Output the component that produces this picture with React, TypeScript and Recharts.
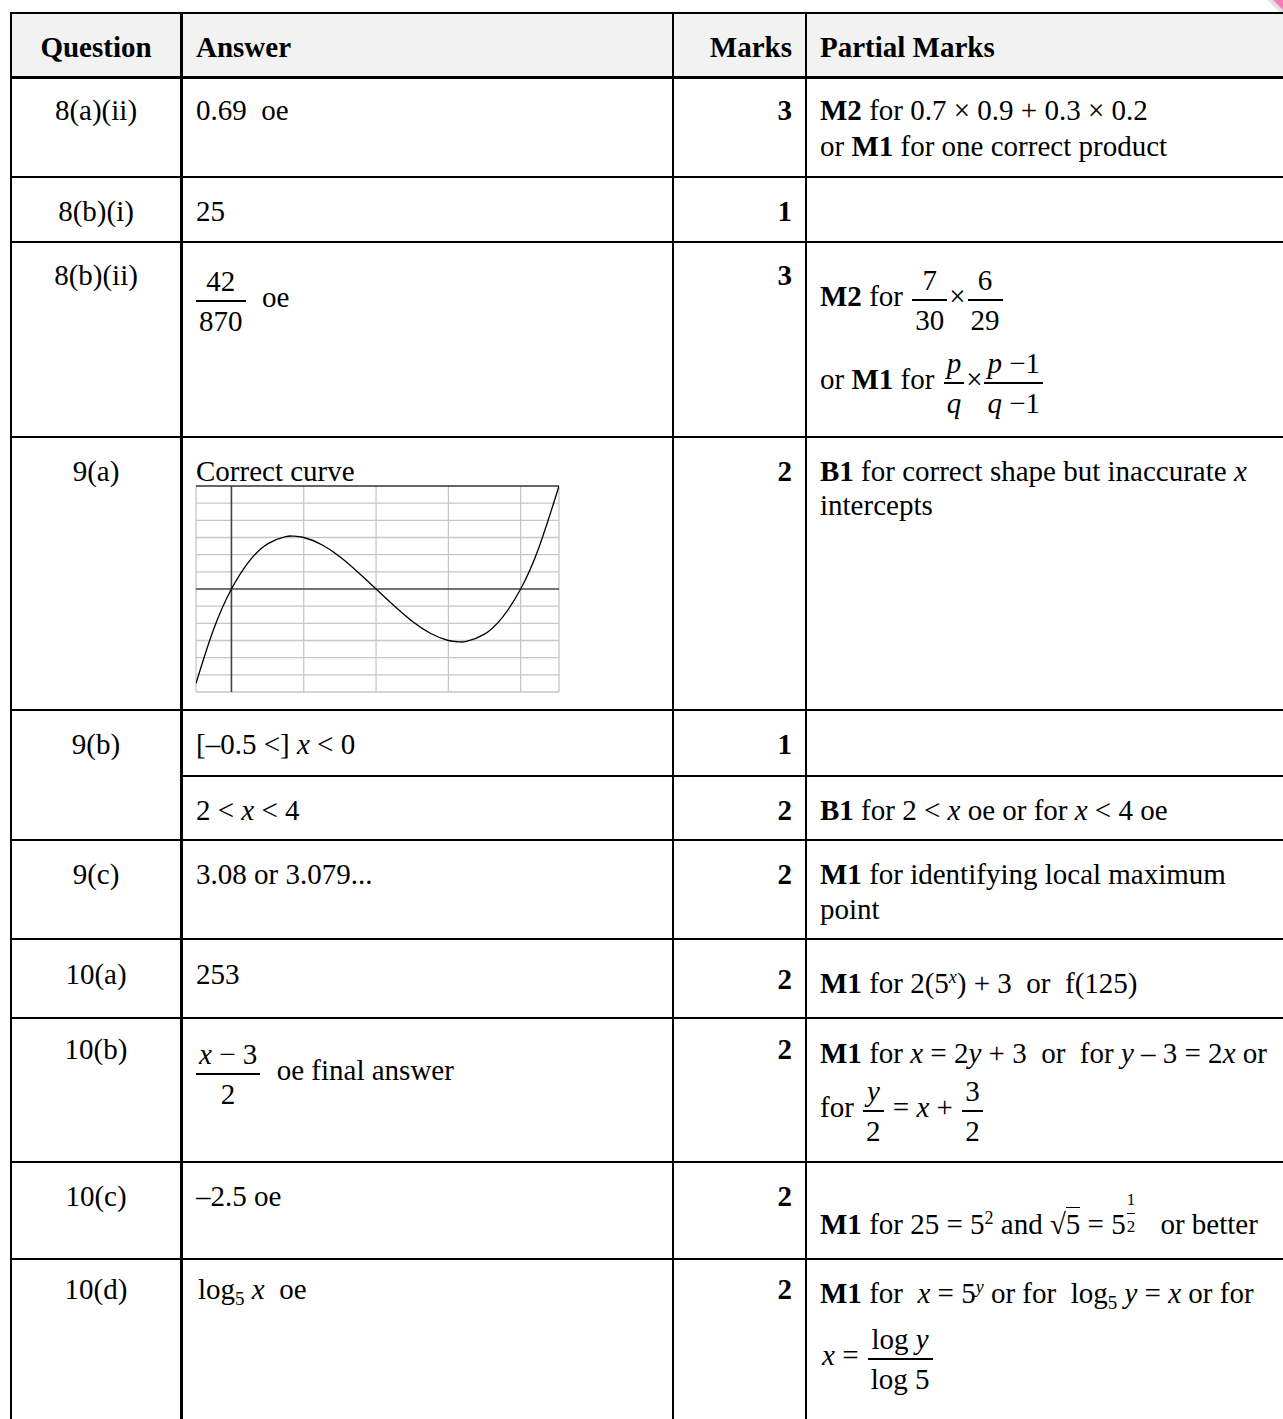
import React from 'react';
import { LineChart, Line, XAxis, YAxis, ReferenceLine } from 'recharts';

// curve in the 9(a) cell
const curveX = [-0.49, -0.25, 0, 0.25, 0.5, 0.75, 0.85, 1, 1.25, 1.5, 1.75, 2, 2.25, 2.5, 2.75, 3, 3.15, 3.25, 3.5, 3.75, 4, 4.25, 4.53];
const curveY = [-5.5, -2.39, 0, 1.64, 2.63, 3.05, 3.08, 3.0, 2.58, 1.88, 0.98, 0, -0.98, -1.88, -2.58, -3.0, -3.08, -3.05, -2.63, -1.64, 0, 2.39, 6.0];
const xDomain = [-0.49, 4.53];
const yDomain = [-6, 6];
const gridX = [-0.49, 1, 2, 3, 4, 4.53];
const gridY = [-6, -5, -4, -3, -2, -1, 1, 2, 3, 4, 5];

const curveData = curveX.map((x, i) => ({ x, y: curveY[i] }));

const FONT = '"Liberation Serif", "Times New Roman", Times, serif';
const W = 1283;
const H = 1419;

// table rules
const rowLines = [12.7, 77.5, 177, 242, 437, 710, 840, 939, 1018, 1162, 1259];
const subRowLines = [776];
const colLines = [11, 181.5, 673, 806];

const Txt = ({ x, cy, align = 'left', bold = false, children }: any) => {
  const base: React.CSSProperties = {
    position: 'absolute',
    top: cy - 60,
    height: 120,
    display: 'flex',
    alignItems: 'center',
    whiteSpace: 'pre',
    fontWeight: bold ? 'bold' : 'normal',
    lineHeight: '36px',
  };
  if (align === 'left') base.left = x;
  if (align === 'right') { base.left = x - 500; base.width = 500; base.justifyContent = 'flex-end'; }
  if (align === 'center') { base.left = x - 250; base.width = 500; base.justifyContent = 'center'; }
  return <div style={base}><span>{children}</span></div>;
};

const Frac = ({ n, d, fs = 29, lh = 38 }: any) => (
  <span style={{ display: 'inline-flex', flexDirection: 'column', alignItems: 'center', verticalAlign: 'middle', margin: '0 2px', fontSize: fs }}>
    <span style={{ lineHeight: lh + 'px', padding: '0 3px', whiteSpace: 'pre' }}>{n}</span>
    <span style={{ height: 1.4, background: '#000', alignSelf: 'stretch' }} />
    <span style={{ lineHeight: lh + 'px', padding: '0 3px', whiteSpace: 'pre' }}>{d}</span>
  </span>
);

// small stacked exponent that does not grow the line box
const ExpFrac = ({ n, d }: any) => (
  <span style={{ position: 'relative', display: 'inline-block', width: 13 }}>
    {'\u00a0'}
    <span style={{ position: 'absolute', left: 1, bottom: 2, display: 'flex', flexDirection: 'column', alignItems: 'center', fontSize: 17, lineHeight: '26px' }}>
      <span>{n}</span>
      <span style={{ height: 1, background: '#000', alignSelf: 'stretch' }} />
      <span>{d}</span>
    </span>
  </span>
);

const Sup = ({ children }: any) => (
  <span style={{ fontSize: 18, verticalAlign: '0.55em', lineHeight: 0 }}>{children}</span>
);
const Sub = ({ children }: any) => (
  <span style={{ fontSize: 19, verticalAlign: '-0.3em', lineHeight: 0 }}>{children}</span>
);

const CurveChart = () => (
  <div style={{ position: 'absolute', left: 195, top: 485 }}>
    <LineChart width={365} height={208} data={curveData} margin={{ top: 1, right: 1, bottom: 1, left: 1 }}>
      <XAxis type="number" dataKey="x" domain={xDomain} allowDataOverflow hide />
      <YAxis type="number" domain={yDomain} allowDataOverflow hide />
      {gridX.map((v) => (
        <ReferenceLine key={'gx' + v} x={v} stroke="#c2c2c2" strokeWidth={1.2} />
      ))}
      {gridY.map((v) => (
        <ReferenceLine key={'gy' + v} y={v} stroke="#c6c6c6" strokeWidth={1.4} />
      ))}
      <ReferenceLine y={6} stroke="#333" strokeWidth={1.3} />
      <ReferenceLine x={0} stroke="#444" strokeWidth={1.6} />
      <ReferenceLine y={0} stroke="#444" strokeWidth={1.6} />
      <Line type="natural" dataKey="y" stroke="#000" strokeWidth={1.3} dot={false} isAnimationActive={false} />
    </LineChart>
  </div>
);

export default function App() {
  return (
    <div style={{ position: 'absolute', left: 0, top: 0, width: W, height: H, overflow: 'hidden', background: '#fff', fontFamily: FONT, fontSize: 29, color: '#000' }}>
      {/* header background */}
      <div style={{ position: 'absolute', left: 11, top: 12.7, width: W - 11, height: 65, background: '#f2f2f2' }} />

      {/* page curl */}
      <div style={{ position: 'absolute', right: 0, top: 0, width: 16, height: 16, background: 'linear-gradient(225deg, #f47ab8 0%, #f47ab8 28%, #d9d9d9 32%, #ffffff 70%)', clipPath: 'polygon(0 0, 100% 0, 100% 100%)' }} />

      {rowLines.map((y) => (
        <div key={'r' + y} style={{ position: 'absolute', left: 10, top: y - 1.2, width: W, height: 2.4, background: '#000' }} />
      ))}
      {subRowLines.map((y) => (
        <div key={'s' + y} style={{ position: 'absolute', left: 181.5, top: y - 1.2, width: W, height: 2.4, background: '#000' }} />
      ))}
      {colLines.map((x) => (
        <div key={'c' + x} style={{ position: 'absolute', left: x - 1.2, top: 12.7, width: 2.4, height: H, background: '#000' }} />
      ))}

      {/* header */}
      <Txt x={96} cy={47} align="center" bold>Question</Txt>
      <Txt x={196} cy={47} bold>Answer</Txt>
      <Txt x={792} cy={47} align="right" bold>Marks</Txt>
      <Txt x={820} cy={47} bold>Partial Marks</Txt>

      {/* 8(a)(ii) */}
      <Txt x={96} cy={110} align="center">8(a)(ii)</Txt>
      <Txt x={196} cy={110}>0.69  oe</Txt>
      <Txt x={792} cy={110} align="right" bold>3</Txt>
      <Txt x={820} cy={110}><b>M2</b> for 0.7 × 0.9 + 0.3 × 0.2</Txt>
      <Txt x={820} cy={146}>or <b>M1</b> for one correct product</Txt>

      {/* 8(b)(i) */}
      <Txt x={96} cy={211} align="center">8(b)(i)</Txt>
      <Txt x={196} cy={211}>25</Txt>
      <Txt x={792} cy={211} align="right" bold>1</Txt>

      {/* 8(b)(ii) */}
      <Txt x={96} cy={275} align="center">8(b)(ii)</Txt>
      <Txt x={194} cy={301}><Frac n="42" d="870" />  oe</Txt>
      <Txt x={792} cy={275} align="right" bold>3</Txt>
      <Txt x={820} cy={300}><b>M2</b> for <Frac n="7" d="30" />×<Frac n="6" d="29" /></Txt>
      <Txt x={820} cy={383}>or <b>M1</b> for <Frac n={<i>p</i>} d={<i>q</i>} />×<Frac n={<><i>p</i> −1</>} d={<><i>q</i> −1</>} /></Txt>

      {/* 9(a) */}
      <Txt x={96} cy={471} align="center">9(a)</Txt>
      <Txt x={196} cy={471}>Correct curve</Txt>
      <CurveChart />
      <Txt x={792} cy={471} align="right" bold>2</Txt>
      <Txt x={820} cy={471}><b>B1</b> for correct shape but inaccurate <i>x</i></Txt>
      <Txt x={820} cy={505}>intercepts</Txt>

      {/* 9(b) */}
      <Txt x={96} cy={744} align="center">9(b)</Txt>
      <Txt x={196} cy={744}>[–0.5 &lt;] <i>x</i> &lt; 0</Txt>
      <Txt x={792} cy={744} align="right" bold>1</Txt>
      <Txt x={196} cy={810}>2 &lt; <i>x</i> &lt; 4</Txt>
      <Txt x={792} cy={810} align="right" bold>2</Txt>
      <Txt x={820} cy={810}><b>B1</b> for 2 &lt; <i>x</i> oe or for <i>x</i> &lt; 4 oe</Txt>

      {/* 9(c) */}
      <Txt x={96} cy={874} align="center">9(c)</Txt>
      <Txt x={196} cy={874}>3.08 or 3.079...</Txt>
      <Txt x={792} cy={874} align="right" bold>2</Txt>
      <Txt x={820} cy={874}><b>M1</b> for identifying local maximum</Txt>
      <Txt x={820} cy={909}>point</Txt>

      {/* 10(a) */}
      <Txt x={96} cy={974} align="center">10(a)</Txt>
      <Txt x={196} cy={974}>253</Txt>
      <Txt x={792} cy={979} align="right" bold>2</Txt>
      <Txt x={820} cy={983}><b>M1</b> for 2(5<Sup><i>x</i></Sup>) + 3  or  f(125)</Txt>

      {/* 10(b) */}
      <Txt x={96} cy={1049} align="center">10(b)</Txt>
      <Txt x={194} cy={1074}><Frac n={<><i>x</i> − 3</>} d="2" />  oe final answer</Txt>
      <Txt x={792} cy={1049} align="right" bold>2</Txt>
      <Txt x={820} cy={1053}><b>M1</b> for <i>x</i> = 2<i>y</i> + 3  or  for <i>y</i> – 3 = 2<i>x</i> or</Txt>
      <Txt x={820} cy={1111}>for <Frac n={<i>y</i>} d="2" /> = <i>x</i> + <Frac n="3" d="2" /></Txt>

      {/* 10(c) */}
      <Txt x={96} cy={1196} align="center">10(c)</Txt>
      <Txt x={196} cy={1196}>–2.5 oe</Txt>
      <Txt x={792} cy={1196} align="right" bold>2</Txt>
      <Txt x={820} cy={1224}>
        <b>M1</b> for 25 = 5<Sup>2</Sup> and √<span style={{ borderTop: '1.4px solid #000' }}>5</span> = 5<ExpFrac n="1" d="2" />{'   or better'}
      </Txt>

      {/* 10(d) */}
      <Txt x={96} cy={1289} align="center">10(d)</Txt>
      <Txt x={198} cy={1289}>log<Sub>5</Sub> <i>x</i>  oe</Txt>
      <Txt x={792} cy={1289} align="right" bold>2</Txt>
      <Txt x={820} cy={1293}><b>M1</b> for  <i>x</i> = 5<Sup><i>y</i></Sup> or for  log<Sub>5</Sub> <i>y</i> = <i>x</i> or for</Txt>
      <Txt x={822} cy={1359}><i>x</i> = <Frac n={<>log <i>y</i></>} d="log 5" /></Txt>
    </div>
  );
}
